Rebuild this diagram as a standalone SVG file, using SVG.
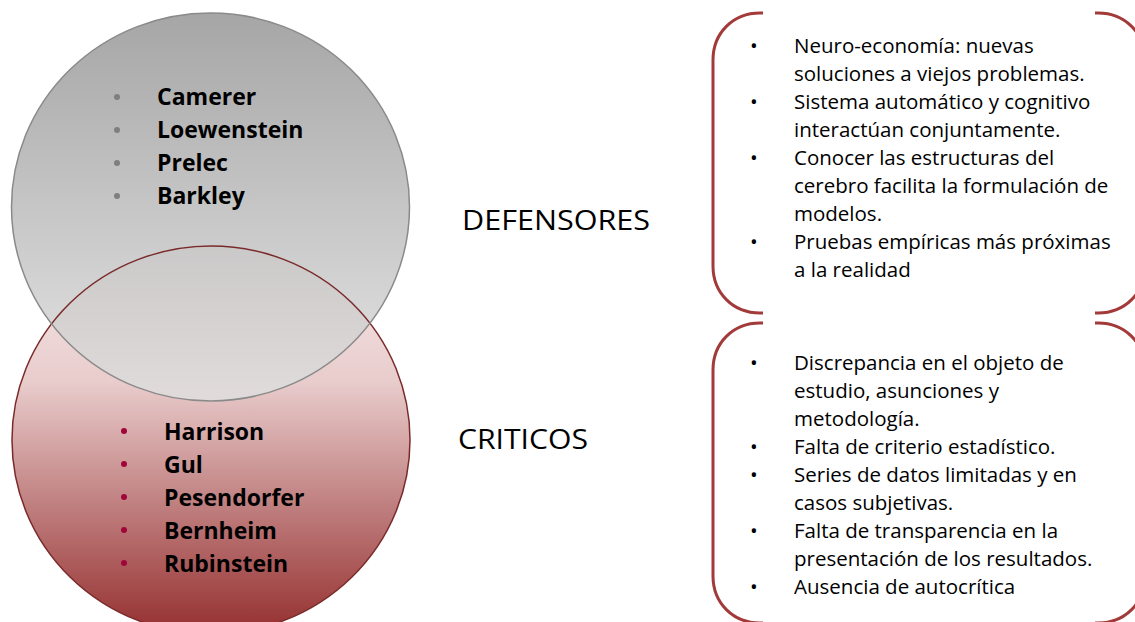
<svg xmlns="http://www.w3.org/2000/svg" width="1135" height="622" viewBox="0 0 1135 622">
  <defs>
    <linearGradient id="gradGray" x1="0" y1="0" x2="0" y2="1">
      <stop offset="0" stop-color="#929292"/>
      <stop offset="1" stop-color="#e0e0e0"/>
    </linearGradient>
    <linearGradient id="gradRed" x1="0" y1="0" x2="0" y2="1">
      <stop offset="0" stop-color="#f6eaea"/>
      <stop offset="0.35" stop-color="#e9cccc"/>
      <stop offset="1" stop-color="#952f2f"/>
    </linearGradient>
    <style>
      .name { font-family: "Open Sans", "Liberation Sans", sans-serif; font-weight: bold; font-size: 23px; fill: #000; }
      .label { font-family: "Open Sans", "Liberation Sans", sans-serif; font-size: 27px; fill: #000; }
      .item { font-family: "Open Sans", "Liberation Sans", sans-serif; font-size: 20.5px; fill: #000; }
      .bracket { fill: none; stroke: #a33a3a; stroke-width: 3; }
    </style>
  </defs>

  <rect width="1135" height="622" fill="#ffffff"/>

  <!-- Venn fills -->
  <g id="criticos-circle">
    <ellipse cx="211" cy="440" rx="199" ry="194" fill="url(#gradRed)"/>
  </g>
  <g id="defensores-circle">
    <ellipse cx="210.5" cy="207" rx="199" ry="194" fill="url(#gradGray)" fill-opacity="0.82"/>
  </g>
  <!-- Venn outlines, both drawn on top so they stay visible in the overlap -->
  <g id="connectors">
    <ellipse cx="211" cy="440" rx="199" ry="194" fill="none" stroke="#7a2a2a" stroke-width="1.5"/>
    <ellipse cx="210.5" cy="207" rx="199" ry="194" fill="none" stroke="#8a8a8a" stroke-width="1.5"/>
  </g>

  <!-- Defender names -->
  <g id="defensores-names">
    <g fill="#7f7f7f">
      <circle cx="117" cy="97" r="3"/>
      <circle cx="117" cy="130" r="3"/>
      <circle cx="117" cy="163" r="3"/>
      <circle cx="117" cy="196" r="3"/>
    </g>
    <text class="name" x="157" y="105">Camerer</text>
    <text class="name" x="157" y="138">Loewenstein</text>
    <text class="name" x="157" y="171">Prelec</text>
    <text class="name" x="157" y="204">Barkley</text>
  </g>

  <!-- Critic names -->
  <g id="criticos-names">
    <g fill="#a0063a">
      <circle cx="124" cy="431" r="3"/>
      <circle cx="124" cy="464" r="3"/>
      <circle cx="124" cy="497" r="3"/>
      <circle cx="124" cy="530" r="3"/>
      <circle cx="124" cy="563" r="3"/>
    </g>
    <text class="name" x="164" y="440">Harrison</text>
    <text class="name" x="164" y="473">Gul</text>
    <text class="name" x="164" y="506">Pesendorfer</text>
    <text class="name" x="164" y="539">Bernheim</text>
    <text class="name" x="164" y="572">Rubinstein</text>
  </g>

  <!-- Group labels -->
  <g id="label-defensores">
    <text class="label" x="462" y="230" textLength="188" lengthAdjust="spacingAndGlyphs">DEFENSORES</text>
  </g>
  <g id="label-criticos">
    <text class="label" x="458" y="449" textLength="130" lengthAdjust="spacingAndGlyphs">CRITICOS</text>
  </g>

  <!-- Arguments in favour -->
  <g id="defensores-box">
    <path class="bracket" d="M763,13 H760 C733,13 713,33 713,60 V266 C713,293 733,313 760,313 H763"/>
    <path class="bracket" d="M1095,13 H1098 C1125,13 1145,33 1145,60 V266 C1145,293 1125,313 1098,313 H1095"/>
    <g class="item">
      <text x="750" y="53">•</text>
      <text x="794" y="53">Neuro-economía: nuevas</text>
      <text x="794" y="81">soluciones a viejos problemas.</text>
      <text x="750" y="109">•</text>
      <text x="794" y="109">Sistema automático y cognitivo</text>
      <text x="794" y="137">interactúan conjuntamente.</text>
      <text x="750" y="165">•</text>
      <text x="794" y="165">Conocer las estructuras del</text>
      <text x="794" y="193">cerebro facilita la formulación de</text>
      <text x="794" y="221">modelos.</text>
      <text x="750" y="249">•</text>
      <text x="794" y="249">Pruebas empíricas más próximas</text>
      <text x="794" y="277">a la realidad</text>
    </g>
  </g>

  <!-- Arguments against -->
  <g id="criticos-box">
    <path class="bracket" d="M763,323 H760 C733,323 713,343 713,370 V576 C713,603 733,623 760,623 H763"/>
    <path class="bracket" d="M1095,323 H1098 C1125,323 1145,343 1145,370 V576 C1145,603 1125,623 1098,623 H1095"/>
    <g class="item">
      <text x="750" y="370">•</text>
      <text x="794" y="370">Discrepancia en el objeto de</text>
      <text x="794" y="398">estudio, asunciones y</text>
      <text x="794" y="426">metodología.</text>
      <text x="750" y="454">•</text>
      <text x="794" y="454">Falta de criterio estadístico.</text>
      <text x="750" y="482">•</text>
      <text x="794" y="482">Series de datos limitadas y en</text>
      <text x="794" y="510">casos subjetivas.</text>
      <text x="750" y="538">•</text>
      <text x="794" y="538">Falta de transparencia en la</text>
      <text x="794" y="566">presentación de los resultados.</text>
      <text x="750" y="594">•</text>
      <text x="794" y="594">Ausencia de autocrítica</text>
    </g>
  </g>
</svg>
